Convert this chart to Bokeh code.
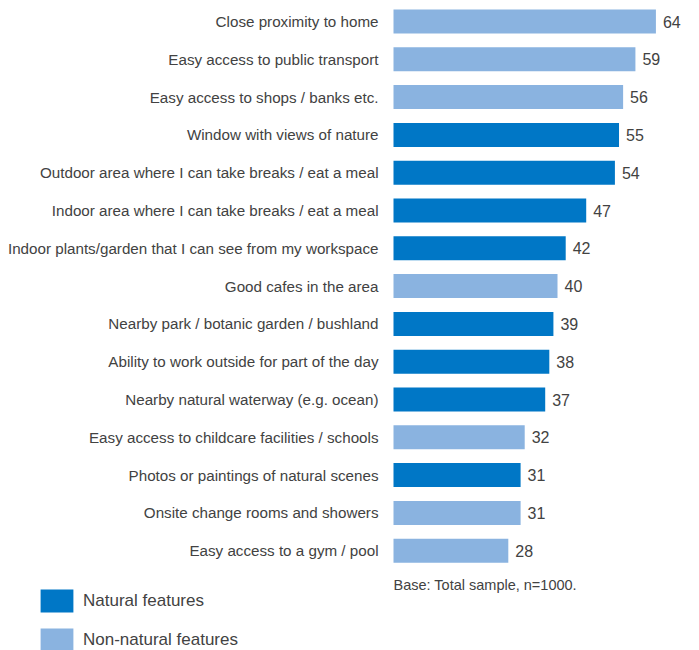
from bokeh.plotting import figure
from bokeh.models import ColumnDataSource, Range1d, Label, Legend, LegendItem
from bokeh.core.properties import value
from bokeh.embed import file_html
from bokeh.resources import INLINE

categories = [
    "Close proximity to home",
    "Easy access to public transport",
    "Easy access to shops / banks etc.",
    "Window with views of nature",
    "Outdoor area where I can take breaks / eat a meal",
    "Indoor area where I can take breaks / eat a meal",
    "Indoor plants/garden that I can see from my workspace",
    "Good cafes in the area",
    "Nearby park / botanic garden / bushland",
    "Ability to work outside for part of the day",
    "Nearby natural waterway (e.g. ocean)",
    "Easy access to childcare facilities / schools",
    "Photos or paintings of natural scenes",
    "Onsite change rooms and showers",
    "Easy access to a gym / pool",
]
values = [64, 59, 56, 55, 54, 47, 42, 40, 39, 38, 37, 32, 31, 31, 28]
natural = [False, False, False, True, True, True, True, False, True, True, True, False, True, False, False]
series_names = ["Natural features", "Non-natural features"]
footnote = "Base: Total sample, n=1000."

DARK = "#0077c6"
LIGHT = "#8ab3e0"
TEXT = "#424242"
FONT = "Liberation Sans"

rows = list(range(len(categories)))

def subset(flag):
    idx = [i for i in rows if natural[i] == flag]
    return ColumnDataSource(dict(
        y=[rows[i] for i in idx],
        v=[values[i] for i in idx],
    ))

p = figure(width=699, height=650, output_backend="svg", toolbar_location=None,
           x_range=Range1d(-95.85, 74.63), y_range=Range1d(16.64, -0.556),
           min_border=0)
p.xaxis.visible = False
p.yaxis.visible = False
p.xgrid.visible = False
p.ygrid.visible = False
p.outline_line_color = None
p.background_fill_color = "white"

r_nat = p.hbar(y="y", right="v", left=0, height=0.635, source=subset(True),
               fill_color=DARK, line_color=None)
r_non = p.hbar(y="y", right="v", left=0, height=0.635, source=subset(False),
               fill_color=LIGHT, line_color=None)

all_src = ColumnDataSource(dict(y=rows, v=values, lab=categories,
                                vt=[str(v) for v in values], zero=[0] * len(rows)))
p.text(x="zero", y="y", text="lab", source=all_src, x_offset=-15,
       text_align="right", text_baseline="middle", text_color=TEXT,
       text_font=value(FONT), text_font_size="15.2px")
p.text(x="v", y="y", text="vt", source=all_src, x_offset=7,
       text_align="left", text_baseline="middle", text_color=TEXT,
       text_font=value(FONT), text_font_size="16px")

p.add_layout(Label(x=0, y=14.92, text=footnote, text_align="left",
                   text_baseline="middle", text_color=TEXT,
                   text_font=FONT, text_font_size="14.5px"))

legend = Legend(items=[LegendItem(label=series_names[0], renderers=[r_nat]),
                       LegendItem(label=series_names[1], renderers=[r_non])],
                location=(36, -4), orientation="vertical",
                glyph_width=41, glyph_height=29, label_standoff=6, spacing=10,
                padding=0, margin=0, border_line_color=None,
                background_fill_alpha=0,
                label_text_font=FONT, label_text_font_size="17px",
                label_text_color=TEXT, label_height=29)
p.add_layout(legend)

open("out.html", "w").write(file_html(p, INLINE))
